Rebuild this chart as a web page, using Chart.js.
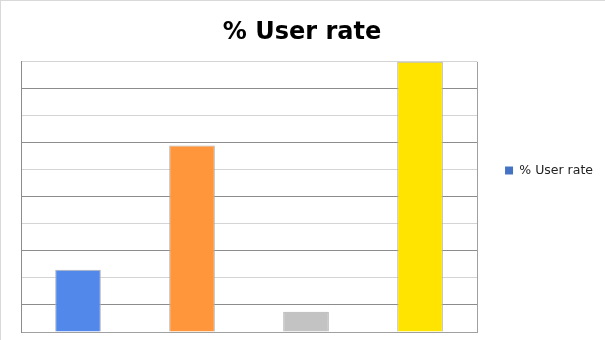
<!DOCTYPE html>
<html>
<head>
<meta charset="utf-8">
<script src="https://cdn.jsdelivr.net/npm/chart.js@4"></script>
<style>
  body { margin: 0; background: #fff; }
  #wrap {
    width: 605px; height: 340px; box-sizing: border-box;
    border-left: 1px solid #d9d9d9; border-top: 1px solid #d9d9d9;
  }
</style>
</head>
<body>
<div id="wrap"><canvas id="chart" width="604" height="339"></canvas></div>
<script>
const categories = ['A', 'B', 'C', 'D'];
const userRate = [23, 69, 7.5, 100];
const barColors = ['#5288ea', '#ff963c', '#c3c3c3', '#ffe400'];
const seriesLabel = '% User rate';

// alternate grid lines darker / lighter like the source
const gridColor = (ctx) => (ctx.index % 2 === 1 ? '#8c8c8c' : '#d4d4d4');

new Chart(document.getElementById('chart'), {
    type: 'bar',
    data: {
        labels: categories,
        datasets: [{
            label: seriesLabel,
            data: userRate,
            backgroundColor: barColors,
            borderColor: '#b0b0b0',
            borderWidth: 1,
            barPercentage: 0.4,
            categoryPercentage: 1.0
        }]
    },
    options: {
        responsive: false,
        animation: false,
        layout: { padding: { left: 0, right: 2, bottom: 8 } },
        plugins: {
            title: {
                display: true,
                text: seriesLabel,
                color: '#000',
                font: { family: 'DejaVu Sans', size: 24, weight: 'bold' },
                padding: { top: 17, bottom: 15 }
            },
            legend: {
                position: 'right',
                // empty title just to push the item down a little
                title: { display: true, text: '', padding: 4, font: { size: 0 } },
                labels: {
                    boxWidth: 8,
                    boxHeight: 8,
                    padding: 28,
                    color: '#222',
                    font: { family: 'DejaVu Sans', size: 12.5 },
                    generateLabels: (chart) => [{
                        text: seriesLabel,
                        fillStyle: '#4472c4',
                        strokeStyle: '#4472c4',
                        fontColor: '#222',
                        lineWidth: 0,
                        datasetIndex: 0
                    }]
                }
            },
            tooltip: { enabled: false }
        },
        scales: {
            x: {
                ticks: { display: false },
                grid: { display: false, drawTicks: false },
                border: { display: true, color: '#a0a0a0', width: 1 }
            },
            y: {
                min: 0,
                max: 100,
                afterFit: (scale) => { scale.width = 20; },
                ticks: { display: false, stepSize: 10 },
                grid: { color: gridColor, drawTicks: false, lineWidth: 1 },
                border: { display: true, color: '#8c8c8c', width: 1 }
            }
        }
    },
    plugins: [{
        id: 'frame',
        afterDraw(chart) {
            const a = chart.chartArea;
            const c = chart.ctx;
            c.save();
            c.strokeStyle = '#a0a0a0';
            c.lineWidth = 1;
            c.beginPath();
            c.moveTo(Math.round(a.right) + 0.5, a.top);
            c.lineTo(Math.round(a.right) + 0.5, a.bottom);
            c.stroke();
            c.restore();
        }
    }]
});
</script>
</body>
</html>
